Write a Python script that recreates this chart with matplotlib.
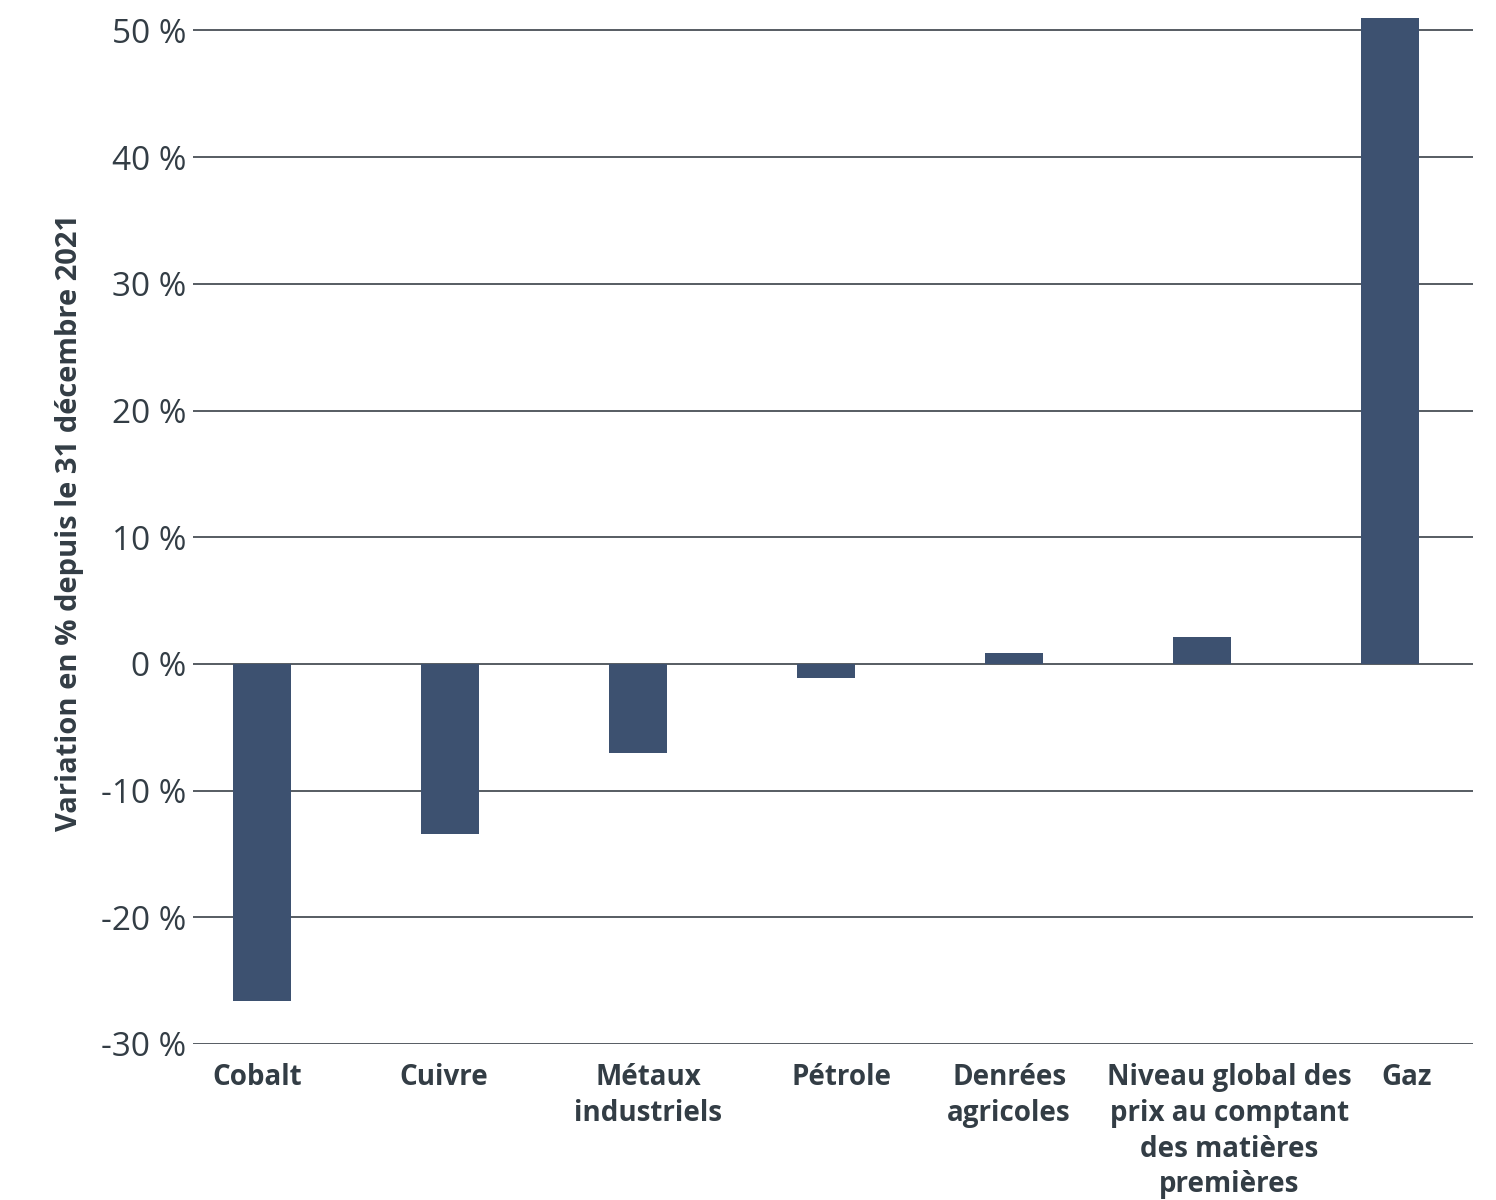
import matplotlib
matplotlib.use("Agg")
import matplotlib.pyplot as plt
import matplotlib.transforms as mtransforms

categories = [
    "Cobalt",
    "Cuivre",
    "Métaux\nindustriels",
    "Pétrole",
    "Denrées\nagricoles",
    "Niveau global des\nprix au comptant\ndes matières\npremières",
    "Gaz",
]
values = [-26.6, -13.4, -7.0, -1.1, 0.9, 2.1, 51.0]
yticks = [-30, -20, -10, 0, 10, 20, 30, 40, 50]
ytick_labels = [f"{v} %" for v in yticks]
ylabel = "Variation en % depuis le 31 décembre 2021"

BAR = "#3d5170"
TEXT = "#333d45"
GRID = "#3a4148"

plt.rcParams["font.family"] = ["Open Sans", "DejaVu Sans"]

fig = plt.figure(figsize=(14.96, 12), dpi=100)
ax = fig.add_axes([193 / 1496, 1 - 1044 / 1200, 1280 / 1496, 1044 / 1200])

x = list(range(len(categories)))
ax.bar(x, values, width=0.31, color=BAR, zorder=3)

ax.set_xlim(-0.367, 6.44)
ax.set_ylim(-30, 52.4)
ax.set_yticks(yticks)
ax.set_yticklabels(ytick_labels, fontsize=24, color=TEXT)
ax.yaxis.grid(True, color=GRID, linewidth=1.2, zorder=0)
ax.tick_params(axis="y", length=0, pad=5)
ax.tick_params(axis="x", length=0, pad=14)
for s in ax.spines.values():
    s.set_visible(False)

ax.set_xticks(x)
ax.set_xticklabels(categories, fontsize=20, fontweight="bold", color=TEXT,
                   linespacing=1.3, va="top")

# small horizontal nudges so the wrapped labels sit clear of each other
nudges = [-5, -6, 10, 15, -5, 27, 16]
for lbl, dx in zip(ax.get_xticklabels(), nudges):
    lbl.set_transform(lbl.get_transform() +
                      mtransforms.ScaledTranslation(dx / 100, 0, fig.dpi_scale_trans))

ax.set_ylabel(ylabel, fontsize=21, fontweight="bold", color=TEXT, labelpad=12)

fig.savefig("out.png", dpi=100, facecolor="white")
